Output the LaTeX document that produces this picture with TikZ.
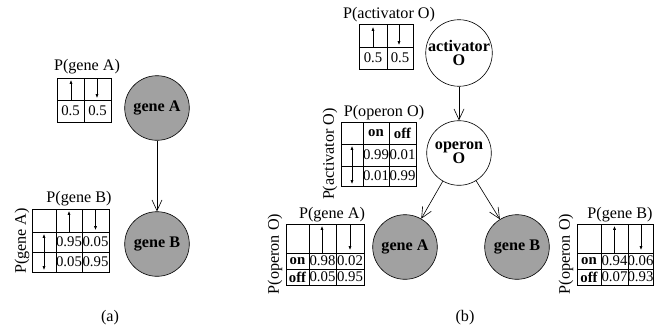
\documentclass[tikz,border=0pt]{standalone}
\usepackage{fontspec}
\setmainfont{Liberation Serif}
\usetikzlibrary{arrows.meta}
\begin{document}
\begin{tikzpicture}[x=0.65pt,y=-0.65pt,
  every node/.style={inner sep=0pt,font=\fontsize{10.5}{12}\selectfont},
  observed/.style={circle,draw,fill=black!37,minimum size=42pt,font=\fontsize{10.5}{12}\selectfont\bfseries,align=center},
  hidden/.style={circle,draw,fill=white,minimum size=42pt,font=\fontsize{10.5}{12}\selectfont\bfseries,align=center},
  edge/.style={-{Straight Barb[length=7pt,width=6.5pt]}},
  flip/.style={-{Latex[length=2.5pt,width=2pt]}},
  dflip/.style={{Latex[length=2.5pt,width=2pt]}-{Latex[length=2.5pt,width=2pt]}},
  val/.style={font=\fontsize{9.6}{11}\selectfont},
  onoff/.style={font=\fontsize{9.6}{11}\selectfont\bfseries}]
\useasboundingbox (0,0) rectangle (664,329);

% (a) network
\node[observed] (geneA) at (157,108) {gene A};
\node[observed] (geneB) at (157,244) {gene B};
\draw[edge] (geneA) -- (geneB);

% (a) P(gene A)
\draw (57,78) rectangle (111,122);
\draw (57,100) -- (111,100);
\draw (84,78) -- (84,122);
\node (pgA) at (87,67) {P(gene A)};
\draw[flip] (71,100) -- (71,80);
\draw[flip] (97,78) -- (97,98);
\node[val] (pgA1) at (70.5,111) {0.5};
\node[val] (pgA2) at (97.5,111) {0.5};

% (a) P(gene B)
\draw (32,209) rectangle (109,272);
\draw (32,232) -- (109,232);
\draw (32,252) -- (109,252);
\draw (56,209) -- (56,272);
\draw (82,209) -- (82,272);
\node (pgB) at (79,199) {P(gene B)};
\node[rotate=90] (pgBc) at (22,241) {P(gene A)};
\draw[flip] (69,232) -- (69,211);
\draw[flip] (95.5,209) -- (95.5,230);
\draw[dflip] (44,234) -- (44,270);
\node[val] (pgB11) at (69,242) {0.95};
\node[val] (pgB12) at (95.5,242) {0.05};
\node[val] (pgB21) at (69,262) {0.05};
\node[val] (pgB22) at (95.5,262) {0.95};

% (b) network
\node[hidden] (actO) at (459,53) {activator\\[-3pt]O};
\node[hidden] (opO) at (459,153) {operon\\[-3pt]O};
\node[observed] (genA) at (405,247) {gene A};
\node[observed] (genB) at (517,247) {gene B};
\draw[edge] (actO) -- (opO);
\draw[edge] (opO) -- (genA);
\draw[edge] (opO) -- (genB);

% (b) P(activator O)
\draw (359,24) rectangle (413,69);
\draw (359,47) -- (413,47);
\draw (387,24) -- (387,69);
\node (pact) at (389,15) {P(activator O)};
\draw[flip] (373,47) -- (373,27);
\draw[flip] (399,24) -- (399,45);
\node[val] (pact1) at (373,58) {0.5};
\node[val] (pact2) at (400,58) {0.5};

% (b) P(operon O)
\draw (341,122) rectangle (416,186);
\draw (341,144) -- (416,144);
\draw (341,166) -- (416,166);
\draw (363,122) -- (363,186);
\draw (389,122) -- (389,186);
\node (pop) at (384,113) {P(operon O)};
\node[rotate=90] (popc) at (330,154) {P(activator O)};
\node[onoff] (popon) at (376,133) {on};
\node[onoff] (popoff) at (402.5,133) {off};
\draw[dflip] (352,146) -- (352,184);
\node[val] (pop11) at (376,155) {0.99};
\node[val] (pop12) at (402.5,155) {0.01};
\node[val] (pop21) at (376,176) {0.01};
\node[val] (pop22) at (402.5,176) {0.99};

% (b) P(gene A)
\draw (286,224) rectangle (364,285);
\draw (286,253) -- (364,253);
\draw (286,269) -- (364,269);
\draw (309,224) -- (309,285);
\draw (336,224) -- (336,285);
\node (pgenA) at (332,215) {P(gene A)};
\node[rotate=90] (pgenAc) at (275,254) {P(operon O)};
\draw[flip] (322,253) -- (322,226);
\draw[flip] (350,224) -- (350,250);
\node[onoff] (pgenAon) at (297.5,261) {on};
\node[onoff] (pgenAoff) at (297.5,277) {off};
\node[val] (pgenA11) at (322.5,261) {0.98};
\node[val] (pgenA12) at (350,261) {0.02};
\node[val] (pgenA21) at (322.5,277) {0.05};
\node[val] (pgenA22) at (350,277) {0.95};

% (b) P(gene B)
\draw (577,224) rectangle (653,285);
\draw (577,253) -- (653,253);
\draw (577,269) -- (653,269);
\draw (601,224) -- (601,285);
\draw (628,224) -- (628,285);
\node (pgenB) at (620,215) {P(gene B)};
\node[rotate=90] (pgenBc) at (566,254) {P(operon O)};
\draw[flip] (614.5,253) -- (614.5,226);
\draw[flip] (641,224) -- (641,250);
\node[onoff] (pgenBon) at (589,261) {on};
\node[onoff] (pgenBoff) at (589,277) {off};
\node[val] (pgenB11) at (614.5,261) {0.94};
\node[val] (pgenB12) at (640.5,261) {0.06};
\node[val] (pgenB21) at (614.5,277) {0.07};
\node[val] (pgenB22) at (640.5,277) {0.93};

% captions
\node (capa) at (110,318) {(a)};
\node (capb) at (465,318) {(b)};

\end{tikzpicture}
\end{document}
